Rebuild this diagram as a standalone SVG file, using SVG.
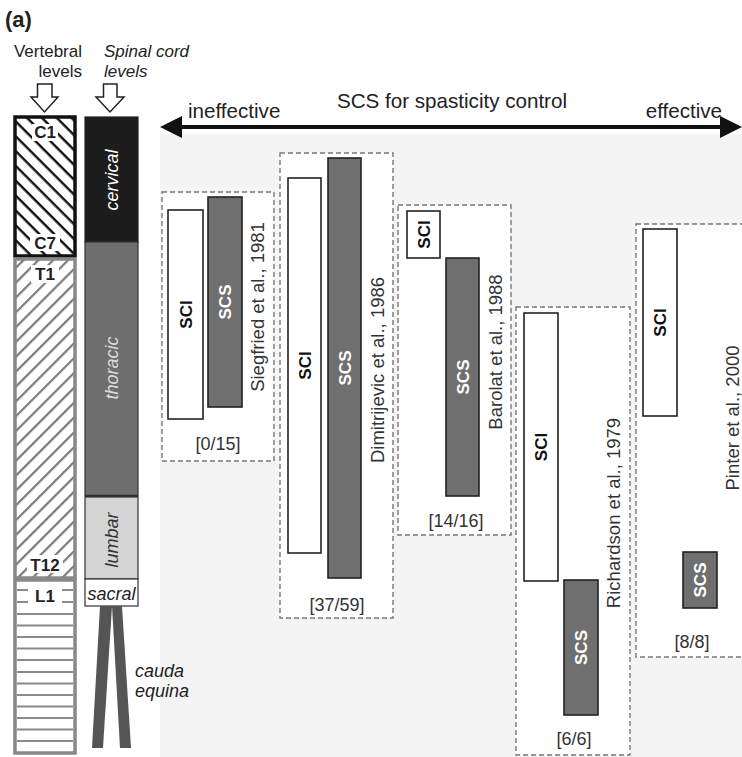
<svg xmlns="http://www.w3.org/2000/svg" width="742" height="757" viewBox="0 0 742 757">
<style>
text{font-family:"Liberation Sans",Arial,sans-serif;}
.hdr{font-size:17px;fill:#222;}
.it{font-style:italic;}
.lev{font-size:17px;font-weight:bold;fill:#222;text-anchor:middle;}
.box{fill:#fff;stroke:#777;stroke-width:1.4;stroke-dasharray:5 3;}
.sci{fill:#fff;stroke:#222;stroke-width:1.6;}
.scs{fill:#6f6f6f;stroke:#222;stroke-width:1.6;}
.bl{font-size:17px;font-weight:bold;text-anchor:middle;}
.cit{font-size:18.5px;fill:#333;text-anchor:middle;}
.cnt{font-size:18px;fill:#333;text-anchor:middle;}
.axis{font-size:20.6px;fill:#222;}
</style>
<defs>
<pattern id="hatchC" width="10.5" height="10.5" patternUnits="userSpaceOnUse" patternTransform="rotate(45)">
<rect x="0" y="0" width="10.5" height="2.4" fill="#111"/>
</pattern>
<pattern id="hatchT" width="10.5" height="10.5" patternUnits="userSpaceOnUse" patternTransform="rotate(-45)">
<rect x="0" y="0" width="10.5" height="2.2" fill="#7a7a7a"/>
</pattern>
</defs>
<rect x="0" y="0" width="742" height="757" fill="#fff"/>
<rect x="160" y="134" width="582" height="623" fill="#f4f4f4"/>

<g id="title">
<text x="5" y="27" font-size="22" font-weight="bold" fill="#222">(a)</text>
</g>

<g id="vertebral-header">
<text class="hdr" x="82" y="57" text-anchor="end">Vertebral</text>
<text class="hdr" x="82" y="77" text-anchor="end">levels</text>
<polygon points="37.5,84 52,84 52,97 58,97 44.5,112 31,97 37.5,97" fill="#fff" stroke="#222" stroke-width="1.5"/>
</g>
<g id="spinal-header">
<text class="hdr it" x="104" y="57">Spinal cord</text>
<text class="hdr it" x="104" y="77">levels</text>
<polygon points="103.5,84 117,84 117,97 124,97 110,112 96,97 103.5,97" fill="#fff" stroke="#222" stroke-width="1.5"/>
</g>

<g id="vertebral-column">
<g id="cervical-vertebrae">
<rect x="15" y="117" width="60" height="139" fill="#fff"/>
<rect x="15" y="117" width="60" height="139" fill="url(#hatchC)"/>
<rect x="32" y="124" width="26" height="17" fill="#fff"/>
<rect x="30" y="234" width="30" height="17" fill="#fff"/>
<rect x="15" y="117" width="60" height="139" fill="none" stroke="#111" stroke-width="3.5"/>
<text class="lev" x="45" y="138">C1</text>
<text class="lev" x="45" y="249">C7</text>
</g>
<g id="thoracic-vertebrae">
<rect x="15" y="259" width="60" height="319" fill="#fff"/>
<rect x="15" y="259" width="60" height="319" fill="url(#hatchT)"/>
<rect x="31" y="265" width="28" height="18" fill="#fff"/>
<rect x="27" y="555" width="36" height="18" fill="#fff"/>
<rect x="15" y="259" width="60" height="319" fill="none" stroke="#888" stroke-width="3.5"/>
<text class="lev" x="45" y="280">T1</text>
<text class="lev" x="45" y="571">T12</text>
</g>
<g id="lumbar-vertebrae">
<rect x="15" y="580" width="60" height="173" fill="#fff" stroke="#888" stroke-width="3.5"/>
<g stroke="#8a8a8a" stroke-width="2">
<line x1="17" y1="590" x2="28" y2="590"/><line x1="62" y1="590" x2="73" y2="590"/>
<line x1="17" y1="602" x2="28" y2="602"/><line x1="62" y1="602" x2="73" y2="602"/>
<line x1="17" y1="614" x2="73" y2="614"/>
<line x1="17" y1="625.5" x2="73" y2="625.5"/>
<line x1="17" y1="637" x2="73" y2="637"/>
<line x1="17" y1="648.5" x2="73" y2="648.5"/>
<line x1="17" y1="660" x2="73" y2="660"/>
<line x1="17" y1="672" x2="73" y2="672"/>
<line x1="17" y1="683.5" x2="73" y2="683.5"/>
<line x1="17" y1="695" x2="73" y2="695"/>
<line x1="17" y1="706.5" x2="73" y2="706.5"/>
<line x1="17" y1="718" x2="73" y2="718"/>
<line x1="17" y1="729.5" x2="73" y2="729.5"/>
<line x1="17" y1="741" x2="73" y2="741"/>
</g>
<text class="lev" x="45" y="602">L1</text>
</g>
</g>

<g id="spinal-cord">
<g id="cervical-cord">
<rect x="85" y="117" width="53" height="125" fill="#1c1c1c" stroke="#222" stroke-width="1.2"/>
<text transform="translate(111.5,180) rotate(-90)" x="0" y="6.5" font-size="18" font-style="italic" fill="#fff" text-anchor="middle">cervical</text>
</g>
<g id="thoracic-cord">
<rect x="85" y="242" width="53" height="254" fill="#6e6e6e" stroke="#333" stroke-width="1.2"/>
<line x1="85" y1="496" x2="138" y2="496" stroke="#333" stroke-width="2.5"/>
<text transform="translate(111.5,368) rotate(-90)" x="0" y="6.5" font-size="18" font-style="italic" fill="#dcdcdc" text-anchor="middle">thoracic</text>
</g>
<g id="lumbar-cord">
<rect x="85" y="497" width="53" height="82" fill="#d4d4d4" stroke="#333" stroke-width="1.2"/>
<text transform="translate(111.5,540) rotate(-90)" x="0" y="6.5" font-size="18" font-style="italic" fill="#333" text-anchor="middle">lumbar</text>
</g>
<g id="sacral-cord">
<rect x="85" y="579" width="53" height="27" fill="#fff" stroke="#333" stroke-width="1.2"/>
<text x="111.5" y="600" font-size="18" font-style="italic" fill="#222" text-anchor="middle">sacral</text>
</g>
<g id="cauda-equina">
<polygon points="100,606 112,606 103,748 92,748" fill="#555"/>
<polygon points="112,606 122,606 131,748 120,748" fill="#555"/>
<text x="135" y="677" font-size="18" font-style="italic" fill="#222">cauda</text>
<text x="135" y="697" font-size="18" font-style="italic" fill="#222">equina</text>
</g>
</g>

<g id="connectors">
<line x1="178" y1="127" x2="724" y2="127" stroke="#111" stroke-width="4"/>
<polygon points="160,127 182,116 182,138" fill="#111"/>
<polygon points="742,127 720,116 720,138" fill="#111"/>
</g>
<g id="axis-labels">
<text class="axis" x="452" y="108" text-anchor="middle">SCS for spasticity control</text>
<text class="axis" x="188" y="118">ineffective</text>
<text class="axis" x="722" y="118" text-anchor="end">effective</text>
</g>

<g id="siegfried">
<rect class="box" x="162" y="192" width="112" height="269"/>
<rect class="sci" x="168" y="210" width="35" height="209"/>
<rect class="scs" x="208" y="197" width="34" height="210"/>
<text class="bl" transform="translate(185.5,314.5) rotate(-90)" x="0" y="6" fill="#111">SCI</text>
<text class="bl" transform="translate(225,302) rotate(-90)" x="0" y="6" fill="#fff">SCS</text>
<text class="cit" transform="translate(257,307) rotate(-90)" x="0" y="6.5">Siegfried et al., 1981</text>
<text class="cnt" x="218" y="450">[0/15]</text>
</g>

<g id="dimitrijevic">
<rect class="box" x="280" y="153" width="113" height="465"/>
<rect class="sci" x="288" y="178" width="33" height="375"/>
<rect class="scs" x="328" y="158" width="33" height="420"/>
<text class="bl" transform="translate(304.5,365.5) rotate(-90)" x="0" y="6" fill="#111">SCI</text>
<text class="bl" transform="translate(344.5,368) rotate(-90)" x="0" y="6" fill="#fff">SCS</text>
<text class="cit" transform="translate(377,370) rotate(-90)" x="0" y="6.5">Dimitrijevic et al., 1986</text>
<text class="cnt" x="337" y="611">[37/59]</text>
</g>

<g id="barolat">
<rect class="box" x="398" y="205" width="113" height="330"/>
<rect class="sci" x="407" y="211" width="33" height="47"/>
<rect class="scs" x="446" y="258" width="33" height="238"/>
<text class="bl" transform="translate(423.5,234.5) rotate(-90)" x="0" y="6" fill="#111">SCI</text>
<text class="bl" transform="translate(462.5,377) rotate(-90)" x="0" y="6" fill="#fff">SCS</text>
<text class="cit" transform="translate(495,352) rotate(-90)" x="0" y="6.5">Barolat et al., 1988</text>
<text class="cnt" x="456" y="527">[14/16]</text>
</g>

<g id="richardson">
<rect class="box" x="516" y="307" width="114" height="448"/>
<rect class="sci" x="524" y="313" width="34" height="268"/>
<rect class="scs" x="564" y="580" width="34" height="135"/>
<text class="bl" transform="translate(541,447) rotate(-90)" x="0" y="6" fill="#111">SCI</text>
<text class="bl" transform="translate(581,647.5) rotate(-90)" x="0" y="6" fill="#fff">SCS</text>
<text class="cit" transform="translate(613,513) rotate(-90)" x="0" y="6.5">Richardson et al., 1979</text>
<text class="cnt" x="574" y="745">[6/6]</text>
</g>

<g id="pinter">
<rect class="box" x="636" y="224" width="120" height="433"/>
<rect class="sci" x="643" y="229" width="34" height="187"/>
<rect class="scs" x="683" y="552" width="34" height="56"/>
<text class="bl" transform="translate(660,322.5) rotate(-90)" x="0" y="6" fill="#111">SCI</text>
<text class="bl" transform="translate(700,580) rotate(-90)" x="0" y="6" fill="#fff">SCS</text>
<text class="cit" transform="translate(732,418) rotate(-90)" x="0" y="6.5">Pinter et al., 2000</text>
<text class="cnt" x="692" y="648">[8/8]</text>
</g>
</svg>
